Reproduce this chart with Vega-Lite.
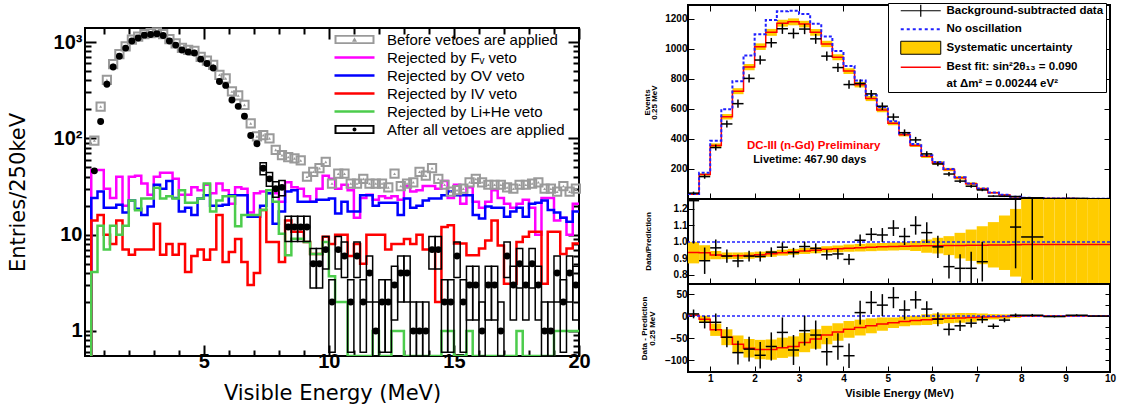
{
"$schema": "https://vega.github.io/schema/vega-lite/v6.json",
"background": "white",
"padding": {"left": 6, "top": 1, "right": 0, "bottom": 0},
"spacing": 46,
"config": {"view": {"stroke": "black", "strokeWidth": 2}, "font": "Liberation Sans", "axis": {"grid": false, "domain": false, "tickColor": "black", "labelColor": "black", "titleColor": "black", "labelFlush": false, "labelOverlap": false}},
"resolve": {"scale": {"x": "independent", "y": "independent", "shape": "independent", "color": "independent", "fill": "independent", "stroke": "independent"}, "legend": {"shape": "independent", "color": "independent", "fill": "independent", "stroke": "independent"}},
"datasets": {
"left": [
{"lo":0.5,"fv":0.3,"ov":0.3,"iv":0.3,"lihe":0.3},
{"lo":0.5,"hi":0.75,"c":0.625,"fv":47,"ov":24,"iv":14,"lihe":4.1,"before":95,"after":46},
{"lo":0.75,"hi":1,"c":0.875,"fv":47,"ov":28,"iv":16,"lihe":12.4,"before":214,"after":150},
{"lo":1,"hi":1.25,"c":1.125,"fv":30,"ov":19,"iv":10,"lihe":7,"before":405,"after":365},
{"lo":1.25,"hi":1.5,"c":1.375,"fv":24,"ov":19,"iv":8,"lihe":12.4,"before":590,"after":550},
{"lo":1.5,"hi":1.75,"c":1.625,"fv":40,"ov":20.5,"iv":14,"lihe":10,"before":750,"after":714},
{"lo":1.75,"hi":2,"c":1.875,"fv":20,"ov":17,"iv":7,"lihe":12.4,"before":900,"after":866},
{"lo":2,"hi":2.25,"c":2.125,"fv":40,"ov":22.6,"iv":6.2,"lihe":22.7,"before":1060,"after":1025},
{"lo":2.25,"hi":2.5,"c":2.375,"fv":41,"ov":18.6,"iv":7,"lihe":17.9,"before":1140,"after":1100},
{"lo":2.5,"hi":2.75,"c":2.625,"fv":34,"ov":16,"iv":7,"lihe":23.7,"before":1210,"after":1180},
{"lo":2.75,"hi":3,"c":2.875,"fv":26,"ov":19.6,"iv":7,"lihe":23.7,"before":1240,"after":1200},
{"lo":3,"hi":3.25,"c":3.125,"fv":40,"ov":33,"iv":13,"lihe":30.8,"before":1260,"after":1220},
{"lo":3.25,"hi":3.5,"c":3.375,"fv":44,"ov":30,"iv":6.2,"lihe":23.7,"before":1210,"after":1170},
{"lo":3.5,"hi":3.75,"c":3.625,"fv":44,"ov":36,"iv":8,"lihe":25,"before":1070,"after":1025},
{"lo":3.75,"hi":4,"c":3.875,"fv":38,"ov":24,"iv":6.2,"lihe":23.7,"before":970,"after":930},
{"lo":4,"hi":4.25,"c":4.125,"fv":26,"ov":17.4,"iv":8,"lihe":29,"before":870,"after":826},
{"lo":4.25,"hi":4.5,"c":4.375,"fv":26,"ov":19,"iv":4.1,"lihe":21.5,"before":830,"after":790},
{"lo":4.5,"hi":4.75,"c":4.625,"fv":31,"ov":16,"iv":6,"lihe":21.5,"before":810,"after":770},
{"lo":4.75,"hi":5,"c":4.875,"fv":29,"ov":23.7,"iv":7,"lihe":23.7,"before":700,"after":665},
{"lo":5,"hi":5.25,"c":5.125,"fv":33,"ov":25.6,"iv":5.5,"lihe":34,"before":640,"after":600},
{"lo":5.25,"hi":5.5,"c":5.375,"fv":27,"ov":20,"iv":7,"lihe":17.4,"before":580,"after":537},
{"lo":5.5,"hi":5.75,"c":5.625,"fv":34,"ov":20,"iv":16,"lihe":22.7,"before":457,"after":390},
{"lo":5.75,"hi":6,"c":5.875,"fv":29,"ov":20.5,"iv":5.2,"lihe":25,"before":420,"after":355},
{"lo":6,"hi":6.25,"c":6.125,"fv":21,"ov":25.6,"iv":6.6,"lihe":25,"before":307,"after":250},
{"lo":6.25,"hi":6.5,"c":6.375,"fv":31,"ov":25.6,"iv":9,"lihe":12.2,"before":279,"after":215},
{"lo":6.5,"hi":6.75,"c":6.625,"fv":30,"ov":25.6,"iv":5.2,"lihe":16,"before":223,"after":170},
{"lo":6.75,"hi":7,"c":6.875,"fv":17,"ov":15.4,"iv":3,"lihe":16,"before":143,"after":107},
{"lo":7,"hi":7.25,"c":7.125,"fv":27,"ov":15.4,"iv":4,"lihe":16,"before":105,"after":88},
{"lo":7.25,"hi":7.5,"c":7.375,"fv":28,"ov":20,"iv":18,"lihe":18,"before":108,"after":49,"alo":42,"ahi":56},
{"lo":7.5,"hi":7.75,"c":7.625,"fv":27,"ov":27,"iv":8.4,"lihe":29,"before":100,"after":38,"alo":31.8,"ahi":44.2},
{"lo":7.75,"hi":8,"c":7.875,"fv":27,"ov":13,"iv":8.4,"lihe":22,"before":76,"after":30,"alo":24.5,"ahi":35.5},
{"lo":8,"hi":8.25,"c":8.125,"fv":22,"ov":17.4,"iv":5.2,"lihe":10.2,"before":67,"after":31,"alo":25.4,"ahi":36.6},
{"lo":8.25,"hi":8.5,"c":8.375,"fv":35,"ov":28,"iv":14,"lihe":6.1,"before":64,"after":12,"alo":8.5,"ahi":15.5},
{"lo":8.5,"hi":8.75,"c":8.625,"fv":31,"ov":29,"iv":10.7,"lihe":9.1,"before":62,"after":12,"alo":8.5,"ahi":15.5},
{"lo":8.75,"hi":9,"c":8.875,"fv":30,"ov":22,"iv":10.7,"lihe":9.1,"before":59,"after":12,"alo":8.5,"ahi":15.5},
{"lo":9,"hi":9.25,"c":9.125,"fv":25,"ov":22,"iv":8.4,"lihe":8.4,"before":40,"after":12,"alo":8.5,"ahi":15.5},
{"lo":9.25,"hi":9.5,"c":9.375,"fv":22,"ov":22,"iv":6.3,"lihe":6.3,"before":45,"after":5,"alo":2.8,"ahi":7.2},
{"lo":9.5,"hi":9.75,"c":9.625,"fv":30,"ov":23,"iv":6.3,"lihe":6.3,"before":49,"after":5,"alo":2.8,"ahi":7.2},
{"lo":9.75,"hi":10,"c":9.875,"fv":41,"ov":23,"iv":9.5,"lihe":8.4,"before":57,"after":7,"alo":4.4,"ahi":9.6},
{"lo":10,"hi":10.25,"c":10.125,"fv":38,"ov":23.7,"iv":8,"lihe":3.7,"before":34,"after":2,"alo":0.6,"ahi":3.4},
{"lo":10.25,"hi":10.5,"c":10.375,"fv":30,"ov":16.6,"iv":10,"lihe":2,"before":43,"after":7,"alo":4.4,"ahi":9.6},
{"lo":10.5,"hi":10.75,"c":10.625,"fv":33,"ov":22,"iv":10,"lihe":2,"before":43,"after":6,"alo":3.6,"ahi":8.4},
{"lo":10.75,"hi":11,"c":10.875,"fv":29,"ov":17.4,"iv":6,"lihe":0.3,"before":34,"after":2,"alo":0.6,"ahi":3.4},
{"lo":11,"hi":11.25,"c":11.125,"fv":15,"ov":17.4,"iv":8,"lihe":0.3,"before":34,"after":6,"alo":3.6,"ahi":8.4},
{"lo":11.25,"hi":11.5,"c":11.375,"fv":24,"ov":25.6,"iv":5,"lihe":0.3,"before":38,"after":2,"alo":0.6,"ahi":3.4},
{"lo":11.5,"hi":11.75,"c":11.625,"fv":26,"ov":25.6,"iv":10,"lihe":0.3,"before":34,"after":4,"alo":2,"ahi":6},
{"lo":11.75,"hi":12,"c":11.875,"fv":23,"ov":20,"iv":10,"lihe":1,"before":34,"after":1,"alo":0.3,"ahi":2},
{"lo":12,"hi":12.25,"c":12.125,"fv":25,"ov":21.5,"iv":10,"lihe":0.3,"before":34,"after":2,"alo":0.6,"ahi":3.4},
{"lo":12.25,"hi":12.5,"c":12.375,"fv":24,"ov":21.5,"iv":7,"lihe":0.3,"before":31,"after":2,"alo":0.6,"ahi":3.4},
{"lo":12.5,"hi":12.75,"c":12.625,"fv":25,"ov":21.5,"iv":8,"lihe":1,"before":43,"after":3,"alo":1.3,"ahi":4.7},
{"lo":12.75,"hi":13,"c":12.875,"fv":23,"ov":16,"iv":8,"lihe":1,"before":32,"after":4,"alo":2,"ahi":6},
{"lo":13,"hi":13.25,"c":13.125,"fv":32,"ov":23.7,"iv":9,"lihe":0.3,"before":34,"after":4,"alo":2,"ahi":6},
{"lo":13.25,"hi":13.5,"c":13.375,"fv":28,"ov":19,"iv":8,"lihe":0.3,"before":35,"after":1,"alo":0.3,"ahi":2},
{"lo":13.5,"hi":13.75,"c":13.625,"fv":29,"ov":20,"iv":10,"lihe":0.3,"before":45,"after":1,"alo":0.3,"ahi":2},
{"lo":13.75,"hi":14,"c":13.875,"fv":32,"ov":22.7,"iv":7,"lihe":0.3,"before":41,"after":1,"alo":0.3,"ahi":2},
{"lo":14,"hi":14.25,"c":14.125,"fv":32,"ov":23.7,"iv":7,"lihe":0.3,"before":49,"after":7,"alo":4.4,"ahi":9.6},
{"lo":14.25,"hi":14.5,"c":14.375,"fv":30,"ov":23.7,"iv":2,"lihe":0.3,"before":38,"after":7,"alo":4.4,"ahi":9.6},
{"lo":14.5,"hi":14.75,"c":14.625,"fv":36,"ov":25.6,"iv":12,"lihe":1,"before":33,"after":2,"alo":0.6,"ahi":3.4},
{"lo":14.75,"hi":15,"c":14.875,"fv":24,"ov":28,"iv":12.5,"lihe":1,"before":28,"after":2,"alo":0.6,"ahi":3.4},
{"lo":15,"hi":15.25,"c":15.125,"fv":33,"ov":25.6,"iv":8.1,"lihe":0.3,"before":29,"after":6,"alo":3.6,"ahi":8.4},
{"lo":15.25,"hi":15.5,"c":15.375,"fv":21,"ov":25.6,"iv":8.1,"lihe":0.3,"before":30,"after":2,"alo":0.6,"ahi":3.4},
{"lo":15.5,"hi":15.75,"c":15.625,"fv":31,"ov":25.6,"iv":6.1,"lihe":1,"before":35,"after":3,"alo":1.3,"ahi":4.7},
{"lo":15.75,"hi":16,"c":15.875,"fv":22,"ov":16,"iv":6.1,"lihe":0.3,"before":38,"after":3,"alo":1.3,"ahi":4.7},
{"lo":16,"hi":16.25,"c":16.125,"fv":19,"ov":14.7,"iv":7.2,"lihe":0.3,"before":35,"after":1,"alo":0.3,"ahi":2},
{"lo":16.25,"hi":16.5,"c":16.375,"fv":22,"ov":19.6,"iv":8.7,"lihe":0.3,"before":33,"after":3,"alo":1.3,"ahi":4.7},
{"lo":16.5,"hi":16.75,"c":16.625,"fv":29,"ov":19,"iv":14,"lihe":0.3,"before":33,"after":3,"alo":1.3,"ahi":4.7},
{"lo":16.75,"hi":17,"c":16.875,"fv":24,"ov":19,"iv":7.7,"lihe":0.3,"before":33,"after":1,"alo":0.3,"ahi":2},
{"lo":17,"hi":17.25,"c":17.125,"fv":21,"ov":15.4,"iv":3.1,"lihe":0.3,"before":31,"after":6,"alo":3.6,"ahi":8.4},
{"lo":17.25,"hi":17.5,"c":17.375,"fv":19,"ov":17.4,"iv":3.1,"lihe":0.3,"before":30,"after":3,"alo":1.3,"ahi":4.7},
{"lo":17.5,"hi":17.75,"c":17.625,"fv":21,"ov":19,"iv":8.4,"lihe":1,"before":33,"after":5,"alo":2.8,"ahi":7.2},
{"lo":17.75,"hi":18,"c":17.875,"fv":23,"ov":15.4,"iv":9.5,"lihe":0.3,"before":33,"after":3,"alo":1.3,"ahi":4.7},
{"lo":18,"hi":18.25,"c":18.125,"fv":19,"ov":21,"iv":10.7,"lihe":0.3,"before":34,"after":5,"alo":2.8,"ahi":7.2},
{"lo":18.25,"hi":18.5,"c":18.375,"fv":10,"ov":21.5,"iv":10.7,"lihe":0.3,"before":35,"after":3,"alo":1.3,"ahi":4.7},
{"lo":18.5,"hi":18.75,"c":18.625,"fv":24,"ov":22.7,"iv":3.1,"lihe":0.3,"before":30,"after":1,"alo":0.3,"ahi":2},
{"lo":18.75,"hi":19,"c":18.875,"fv":24,"ov":18,"iv":10.7,"lihe":0.3,"before":30,"after":1,"alo":0.3,"ahi":2},
{"lo":19,"hi":19.25,"c":19.125,"fv":14,"ov":17,"iv":10.7,"lihe":1,"before":28,"after":4,"alo":2,"ahi":6},
{"lo":19.25,"hi":19.5,"c":19.375,"fv":15,"ov":15,"iv":6.3,"lihe":1,"before":32,"after":2,"alo":0.6,"ahi":3.4},
{"lo":19.5,"hi":19.75,"c":19.625,"fv":10,"ov":13.6,"iv":7.2,"lihe":1,"before":28,"after":4,"alo":2,"ahi":6},
{"lo":19.75,"hi":20,"c":19.875,"fv":21,"ov":17.4,"iv":8.1,"lihe":1,"before":30,"after":3,"alo":1.3,"ahi":4.7},
{"lo":20,"fv":21,"ov":17.4,"iv":8.1,"lihe":1}
],
"leftleg": [{"series":"before"},{"series":"fv"},{"series":"ov"},{"series":"iv"},{"series":"lihe"},{"series":"after"}],
"rightleg": [{"item":"data"},{"item":"noosc"},{"item":"sys"},{"item":"fit"},{"item":"fit2"}],
"bins": [
{"lo":0.5,"hi":0.75,"pred":31,"noosc":33,"blo":29,"bhi":33,"r":0.936,"rlo":0.87,"rhi":1.0,"d":2,"dlo":0,"dhi":4},
{"lo":0.75,"hi":1,"pred":163,"noosc":175,"blo":155,"bhi":171,"r":0.934,"rlo":0.89,"rhi":0.98,"d":-7,"dlo":-15,"dhi":1},
{"lo":1,"hi":1.25,"pred":356,"noosc":387,"blo":342,"bhi":370,"r":0.92,"rlo":0.895,"rhi":0.945,"d":-31,"dlo":-45,"dhi":-17},
{"lo":1.25,"hi":1.5,"pred":547,"noosc":597,"blo":529,"bhi":565,"r":0.916,"rlo":0.896,"rhi":0.936,"d":-48,"dlo":-66,"dhi":-30},
{"lo":1.5,"hi":1.75,"pred":717,"noosc":783,"blo":697,"bhi":737,"r":0.916,"rlo":0.896,"rhi":0.936,"d":-64,"dlo":-84,"dhi":-44},
{"lo":1.75,"hi":2,"pred":877,"noosc":955,"blo":856,"bhi":898,"r":0.918,"rlo":0.898,"rhi":0.938,"d":-73,"dlo":-94,"dhi":-52},
{"lo":2,"hi":2.25,"pred":1013,"noosc":1095,"blo":991,"bhi":1035,"r":0.922,"rlo":0.903,"rhi":0.941,"d":-76,"dlo":-98,"dhi":-54},
{"lo":2.25,"hi":2.5,"pred":1108,"noosc":1190,"blo":1085,"bhi":1131,"r":0.928,"rlo":0.91,"rhi":0.946,"d":-76,"dlo":-99,"dhi":-53},
{"lo":2.5,"hi":2.75,"pred":1169,"noosc":1248,"blo":1146,"bhi":1192,"r":0.935,"rlo":0.917,"rhi":0.953,"d":-72,"dlo":-95,"dhi":-49},
{"lo":2.75,"hi":3,"pred":1178,"noosc":1252,"blo":1155,"bhi":1201,"r":0.94,"rlo":0.922,"rhi":0.958,"d":-69,"dlo":-92,"dhi":-46},
{"lo":3,"hi":3.25,"pred":1163,"noosc":1230,"blo":1141,"bhi":1185,"r":0.945,"rlo":0.927,"rhi":0.963,"d":-60,"dlo":-82,"dhi":-38},
{"lo":3.25,"hi":3.5,"pred":1108,"noosc":1166,"blo":1086,"bhi":1130,"r":0.95,"rlo":0.932,"rhi":0.968,"d":-52,"dlo":-74,"dhi":-30},
{"lo":3.5,"hi":3.75,"pred":1031,"noosc":1080,"blo":1010,"bhi":1052,"r":0.955,"rlo":0.936,"rhi":0.974,"d":-43,"dlo":-64,"dhi":-22},
{"lo":3.75,"hi":4,"pred":943,"noosc":984,"blo":923,"bhi":963,"r":0.958,"rlo":0.938,"rhi":0.978,"d":-36,"dlo":-56,"dhi":-16},
{"lo":4,"hi":4.25,"pred":851,"noosc":885,"blo":832,"bhi":870,"r":0.962,"rlo":0.94,"rhi":0.984,"d":-30,"dlo":-49,"dhi":-11},
{"lo":4.25,"hi":4.5,"pred":760,"noosc":788,"blo":742,"bhi":778,"r":0.965,"rlo":0.942,"rhi":0.988,"d":-26,"dlo":-44,"dhi":-8},
{"lo":4.5,"hi":4.75,"pred":668,"noosc":690,"blo":651,"bhi":685,"r":0.968,"rlo":0.944,"rhi":0.992,"d":-22,"dlo":-39,"dhi":-5},
{"lo":4.75,"hi":5,"pred":592,"noosc":610,"blo":577,"bhi":607,"r":0.97,"rlo":0.946,"rhi":0.994,"d":-18,"dlo":-33,"dhi":-3},
{"lo":5,"hi":5.25,"pred":503,"noosc":517,"blo":491,"bhi":515,"r":0.972,"rlo":0.948,"rhi":0.996,"d":-15,"dlo":-27,"dhi":-3},
{"lo":5.25,"hi":5.5,"pred":427,"noosc":438,"blo":416,"bhi":438,"r":0.974,"rlo":0.95,"rhi":0.998,"d":-12,"dlo":-23,"dhi":-1},
{"lo":5.5,"hi":5.75,"pred":356,"noosc":365,"blo":345,"bhi":367,"r":0.975,"rlo":0.945,"rhi":1.005,"d":-10,"dlo":-21,"dhi":1},
{"lo":5.75,"hi":6,"pred":284,"noosc":291,"blo":272,"bhi":296,"r":0.976,"rlo":0.935,"rhi":1.015,"d":-8,"dlo":-20,"dhi":4},
{"lo":6,"hi":6.25,"pred":240,"noosc":246,"blo":228,"bhi":252,"r":0.977,"rlo":0.93,"rhi":1.025,"d":-6,"dlo":-18,"dhi":6},
{"lo":6.25,"hi":6.5,"pred":196,"noosc":200,"blo":185,"bhi":207,"r":0.978,"rlo":0.92,"rhi":1.035,"d":-5,"dlo":-16,"dhi":6},
{"lo":6.5,"hi":6.75,"pred":141,"noosc":144,"blo":130,"bhi":152,"r":0.979,"rlo":0.9,"rhi":1.055,"d":-4,"dlo":-15,"dhi":7},
{"lo":6.75,"hi":7,"pred":101,"noosc":103,"blo":91,"bhi":111,"r":0.98,"rlo":0.885,"rhi":1.075,"d":-3,"dlo":-13,"dhi":7},
{"lo":7,"hi":7.25,"pred":68,"noosc":69,"blo":60,"bhi":76,"r":0.98,"rlo":0.865,"rhi":1.095,"d":-2,"dlo":-10,"dhi":6},
{"lo":7.25,"hi":7.5,"pred":42,"noosc":43,"blo":36,"bhi":48,"r":0.981,"rlo":0.845,"rhi":1.12,"d":-1.5,"dlo":-7.5,"dhi":4.5},
{"lo":7.5,"hi":7.75,"pred":27,"noosc":27.5,"blo":22,"bhi":32,"r":0.982,"rlo":0.83,"rhi":1.16,"d":-1,"dlo":-6,"dhi":4},
{"lo":7.75,"hi":8,"pred":15,"noosc":15.3,"blo":11.6,"bhi":18.4,"r":0.983,"rlo":0.79,"rhi":1.2,"d":-0.5,"dlo":-3.9,"dhi":2.9},
{"lo":8,"hi":8.25,"pred":8,"noosc":8.2,"blo":6,"bhi":10,"r":0.985,"rlo":0.7,"rhi":1.3,"d":0,"dlo":-2,"dhi":2},
{"lo":8.25,"hi":8.5,"pred":6,"noosc":6.1,"blo":4,"bhi":8,"r":0.985,"rlo":0.7,"rhi":1.3,"d":0,"dlo":-2,"dhi":2},
{"lo":8.5,"hi":8.75,"pred":4,"noosc":4,"blo":2,"bhi":6,"r":0.985,"rlo":0.7,"rhi":1.3,"d":0,"dlo":-2,"dhi":2},
{"lo":8.75,"hi":9,"pred":3,"noosc":3,"blo":1,"bhi":5,"r":0.985,"rlo":0.7,"rhi":1.3,"d":0,"dlo":-1.5,"dhi":1.5},
{"lo":9,"hi":9.25,"pred":3,"noosc":3,"blo":1,"bhi":5,"r":0.985,"rlo":0.7,"rhi":1.3,"d":0,"dlo":-1.5,"dhi":1.5},
{"lo":9.25,"hi":9.5,"pred":2,"noosc":2,"blo":0,"bhi":4,"r":0.985,"rlo":0.7,"rhi":1.3,"d":0,"dlo":-1,"dhi":1},
{"lo":9.5,"hi":9.75,"pred":2,"noosc":2,"blo":0,"bhi":4,"r":0.985,"rlo":0.7,"rhi":1.3,"d":0,"dlo":-1,"dhi":1},
{"lo":9.75,"hi":10,"pred":2,"noosc":2,"blo":0,"bhi":4,"r":0.985,"rlo":0.7,"rhi":1.3,"d":0,"dlo":-1,"dhi":1},
{"lo":10,"pred":2,"noosc":2,"r":0.985,"d":0}
],
"pts": [
{"xc":0.625,"xl":0.5,"xh":0.75,"data":39,"derr":10,"ratio":1.25,"rerr":0.26,"diff":5},
{"xc":0.875,"xl":0.75,"xh":1,"data":149,"derr":14,"ratio":0.886,"rerr":0.08,"diff":-14},
{"xc":1.125,"xl":1,"xh":1.25,"data":342,"derr":20,"ratio":0.964,"rerr":0.05,"diff":-14},
{"xc":1.375,"xl":1.25,"xh":1.5,"data":499,"derr":23,"ratio":0.914,"rerr":0.04,"diff":-48},
{"xc":1.625,"xl":1.5,"xh":1.75,"data":634,"derr":27,"ratio":0.885,"rerr":0.038,"diff":-83},
{"xc":1.875,"xl":1.75,"xh":2,"data":802,"derr":28,"ratio":0.914,"rerr":0.032,"diff":-75},
{"xc":2.125,"xl":2,"xh":2.25,"data":924,"derr":30,"ratio":0.912,"rerr":0.03,"diff":-89},
{"xc":2.375,"xl":2.25,"xh":2.5,"data":1039,"derr":32,"ratio":0.938,"rerr":0.029,"diff":-69},
{"xc":2.625,"xl":2.5,"xh":2.75,"data":1132,"derr":34,"ratio":0.968,"rerr":0.029,"diff":-37},
{"xc":2.875,"xl":2.75,"xh":3,"data":1101,"derr":34,"ratio":0.935,"rerr":0.029,"diff":-77},
{"xc":3.125,"xl":3,"xh":3.25,"data":1130,"derr":34,"ratio":0.972,"rerr":0.029,"diff":-33},
{"xc":3.375,"xl":3.25,"xh":3.5,"data":1065,"derr":33,"ratio":0.961,"rerr":0.03,"diff":-43},
{"xc":3.625,"xl":3.5,"xh":3.75,"data":950,"derr":31,"ratio":0.922,"rerr":0.03,"diff":-81},
{"xc":3.875,"xl":3.75,"xh":4,"data":874,"derr":30,"ratio":0.927,"rerr":0.032,"diff":-69},
{"xc":4.125,"xl":4,"xh":4.25,"data":761,"derr":28,"ratio":0.894,"rerr":0.033,"diff":-90},
{"xc":4.375,"xl":4.25,"xh":4.5,"data":768,"derr":27,"ratio":1.01,"rerr":0.035,"diff":8},
{"xc":4.625,"xl":4.5,"xh":4.75,"data":699,"derr":26,"ratio":1.046,"rerr":0.039,"diff":31},
{"xc":4.875,"xl":4.75,"xh":5,"data":617,"derr":25,"ratio":1.042,"rerr":0.042,"diff":25},
{"xc":5.125,"xl":5,"xh":5.25,"data":545,"derr":24,"ratio":1.084,"rerr":0.048,"diff":42},
{"xc":5.375,"xl":5.25,"xh":5.5,"data":441,"derr":22,"ratio":1.033,"rerr":0.052,"diff":14},
{"xc":5.625,"xl":5.5,"xh":5.75,"data":393,"derr":20,"ratio":1.1,"rerr":0.056,"diff":37},
{"xc":5.875,"xl":5.75,"xh":6,"data":300,"derr":18,"ratio":1.056,"rerr":0.063,"diff":16},
{"xc":6.125,"xl":6,"xh":6.25,"data":233,"derr":16,"ratio":0.97,"rerr":0.067,"diff":-7},
{"xc":6.375,"xl":6.25,"xh":6.5,"data":166,"derr":14,"ratio":0.85,"rerr":0.072,"diff":-30},
{"xc":6.625,"xl":6.5,"xh":6.75,"data":119,"derr":12,"ratio":0.84,"rerr":0.085,"diff":-22},
{"xc":6.875,"xl":6.75,"xh":7,"data":85,"derr":10,"ratio":0.84,"rerr":0.1,"diff":-16},
{"xc":7.125,"xl":7,"xh":7.25,"data":60,"derr":8,"ratio":0.88,"rerr":0.12,"diff":-8},
{"xc":7.375,"xl":7.25,"xh":7.5,"data":19,"derr":6,"diff":-23},
{"xc":7.625,"xl":7.5,"xh":7.75,"data":18,"derr":5,"diff":-9},
{"xc":7.875,"xl":7.75,"xh":8,"data":16.5,"derr":4,"ratio":1.09,"rerr":0.25,"diff":2},
{"xc":8.25,"xl":8,"xh":8.5,"data":8,"derr":3,"ratio":1.03,"rerr":0.26,"diff":2},
{"xc":8.75,"xl":8.5,"xh":9,"data":3,"derr":2,"diff":-1},
{"xc":9.25,"xl":9,"xh":9.5,"data":4,"derr":2,"diff":2},
{"xc":9.75,"xl":9.5,"xh":10,"data":2,"derr":1.5,"diff":0}
]
},
"hconcat": [
{
"vconcat": [
{"width": 494, "height": 18, "view": {"stroke": null}, "data": {"values": [{}]}, "mark": {"type": "point", "opacity": 0}},
{
"width": 494, "height": 328,
"data": {"name": "left"},
"resolve": {"axis": {"x": "independent", "y": "independent"}},
"layer": [
{"transform": [{"fold": ["fv","ov","iv","lihe"], "as": ["series","v"]}],
 "mark": {"type": "line", "interpolate": "step-after", "strokeWidth": 2.5, "clip": true},
 "encoding": {
  "x": {"field": "lo", "type": "quantitative", "scale": {"domain": [0.25, 20], "nice": false, "zero": false},
        "axis": {"values": [1,2,3,4,5,6,7,8,9,10,11,12,13,14,15,16,17,18,19,20], "labelOverlap": false,
                 "labelOpacity": {"condition": {"test": "datum.value % 5 == 0", "value": 1}, "value": 0},
                 "tickSize": {"condition": {"test": "datum.value % 5 == 0", "value": -11}, "value": -6}, "tickWidth": 2,
                 "labelFont": "Liberation Sans", "labelFontWeight": "bold", "labelFontSize": 20, "labelPadding": 6,
                 "title": "Visible Energy (MeV)", "titleFont": "DejaVu Sans", "titleFontWeight": "normal", "titleFontSize": 21, "titlePadding": 6}},
  "y": {"field": "v", "type": "quantitative", "scale": {"type": "log", "domain": [0.55, 1400], "nice": false, "clamp": true},
        "axis": {"values": [0.6,0.7,0.8,0.9,1,2,3,4,5,6,7,8,9,10,20,30,40,50,60,70,80,90,100,200,300,400,500,600,700,800,900,1000], "labelOverlap": false,
                 "labelExpr": "datum.value == 1 ? '1' : datum.value == 10 ? '10' : datum.value == 100 ? '10²' : datum.value == 1000 ? '10³' : ''",
                 "tickSize": {"condition": {"test": "datum.value == 1 || datum.value == 10 || datum.value == 100 || datum.value == 1000", "value": -11}, "value": -6}, "tickWidth": 2,
                 "labelFont": "Liberation Sans", "labelFontWeight": "bold", "labelFontSize": 20, "labelPadding": 14,
                 "title": "Entries/250keV", "titleFont": "DejaVu Sans", "titleFontWeight": "normal", "titleFontSize": 21, "titleX": -57, "titleY": 164}},
  "color": {"field": "series", "type": "nominal", "scale": {"domain": ["fv","ov","iv","lihe"], "range": ["#ff00ff","#0000ff","#ff0000","#4ccc4c"]}, "legend": null}
 }},
{"mark": {"type": "point", "shape": "square", "size": 68, "filled": false, "strokeWidth": 2, "color": "#9a9a9a", "opacity": 1},
 "encoding": {
  "x": {"field": "c", "type": "quantitative", "axis": {"orient": "top", "values": [1,2,3,4,5,6,7,8,9,10,11,12,13,14,15,16,17,18,19,20], "labels": false, "title": null,
        "tickSize": {"condition": {"test": "datum.value % 5 == 0", "value": -11}, "value": -6}, "tickWidth": 2}},
  "y": {"field": "before", "type": "quantitative", "axis": {"orient": "right", "values": [0.6,0.7,0.8,0.9,1,2,3,4,5,6,7,8,9,10,20,30,40,50,60,70,80,90,100,200,300,400,500,600,700,800,900,1000], "labels": false, "title": null,
        "tickSize": {"condition": {"test": "datum.value == 1 || datum.value == 10 || datum.value == 100 || datum.value == 1000", "value": -11}, "value": -6}, "tickWidth": 2}}}},
{"mark": {"type": "point", "shape": "triangle-up", "size": 9, "filled": true, "color": "#9a9a9a", "opacity": 1},
 "encoding": {"x": {"field": "c", "type": "quantitative", "axis": null}, "y": {"field": "before", "type": "quantitative", "axis": null}}},
{"mark": {"type": "rect", "filled": false, "color": "black", "strokeWidth": 1.5, "clip": true},
 "encoding": {"x": {"field": "lo", "type": "quantitative", "axis": null}, "x2": {"field": "hi"}, "y": {"field": "alo", "type": "quantitative", "axis": null}, "y2": {"field": "ahi"}}},
{"mark": {"type": "point", "shape": "circle", "size": 48, "filled": true, "color": "black", "opacity": 1},
 "encoding": {"x": {"field": "c", "type": "quantitative", "axis": null}, "y": {"field": "after", "type": "quantitative", "axis": null}}},
{"data": {"name": "leftleg"},
 "mark": {"type": "point", "filled": true, "opacity": 0},
 "encoding": {
  "fill": {"field": "series", "type": "nominal",
   "scale": {"domain": ["before","fv","ov","iv","lihe","after"], "range": ["#9a9a9a","#ff00ff","#0000ff","#ff0000","#4ccc4c","#000000"]},
   "legend": {"orient": "none", "legendX": 247, "legendY": 4, "title": null, "padding": 0,
              "symbolSize": 100, "symbolOffset": 15, "labelOffset": 25, "rowPadding": 2, "symbolOpacity": 1, "symbolStrokeWidth": 0,
              "labelFont": "Liberation Sans", "labelFontSize": 15, "labelColor": "black", "labelLimit": 400,
              "labelExpr": "datum.label == 'before' ? 'Before vetoes are applied' : datum.label == 'fv' ? 'Rejected by Fᵥ veto' : datum.label == 'ov' ? 'Rejected by OV veto' : datum.label == 'iv' ? 'Rejected by IV veto' : datum.label == 'lihe' ? 'Rejected by Li+He veto' : 'After all vetoes are applied'"}},
  "shape": {"field": "series", "type": "nominal",
   "scale": {"domain": ["before","fv","ov","iv","lihe","after"],
             "range": ["M-4,-0.9H4V0.9H-4Z M-3.6,-0.55V0.55H3.6V-0.55Z M-0.5,0.45L0,-0.45L0.5,0.45Z",
                       "M-4,-0.25H4V0.25H-4Z", "M-4,-0.25H4V0.25H-4Z", "M-4,-0.25H4V0.25H-4Z", "M-4,-0.25H4V0.25H-4Z",
                       "M-4,-0.9H4V0.9H-4Z M-3.6,-0.55V0.55H3.6V-0.55Z M0.4,0A0.4,0.4,0,1,1,-0.4,0A0.4,0.4,0,1,1,0.4,0Z"]},
   "legend": {"orient": "none", "legendX": 247, "legendY": 4, "title": null, "padding": 0,
              "symbolSize": 100, "symbolOffset": 15, "labelOffset": 25, "rowPadding": 2, "symbolOpacity": 1, "symbolStrokeWidth": 0,
              "labelFont": "Liberation Sans", "labelFontSize": 15, "labelColor": "black", "labelLimit": 400,
              "labelExpr": "datum.label == 'before' ? 'Before vetoes are applied' : datum.label == 'fv' ? 'Rejected by Fᵥ veto' : datum.label == 'ov' ? 'Rejected by OV veto' : datum.label == 'iv' ? 'Rejected by IV veto' : datum.label == 'lihe' ? 'Rejected by Li+He veto' : 'After all vetoes are applied'"}}}}
]
}
],
"spacing": 0,
"resolve": {"scale": {"x": "independent", "y": "independent", "shape": "independent", "fill": "independent"}, "legend": {"shape": "independent", "fill": "independent"}}
},
{
"vconcat": [
{
"width": 422, "height": 194,
"resolve": {"axis": {"x": "independent", "y": "independent"}},
"layer": [
{"data": {"name": "bins"}, "mark": {"type": "rect", "color": "#ffcc00", "clip": true},
 "encoding": {
  "x": {"field": "lo", "type": "quantitative", "scale": {"domain": [0.5, 10], "nice": false, "zero": false},
        "axis": {"values": [1,2,3,4,5,6,7,8,9,10], "labels": false, "title": null, "tickSize": -6, "tickWidth": 1}},
  "x2": {"field": "hi"},
  "y": {"field": "blo", "type": "quantitative", "scale": {"domain": [0, 1290], "nice": false, "clamp": true},
        "axis": {"values": [200,400,600,800,1000,1200], "format": "d", "labelOverlap": false, "tickSize": -6, "tickWidth": 1, "labelFont": "Liberation Sans", "labelFontWeight": "bold", "labelFontSize": 10, "labelPadding": 7,
                 "title": ["Events", "0.25 MeV"], "titleFont": "Liberation Sans", "titleFontWeight": "bold", "titleFontSize": 8, "titleX": -45, "titleY": 97, "titleBaseline": "top", "titleAngle": -90, "titleLineHeight": 7.5}},
  "y2": {"field": "bhi"}
 }},
{"data": {"name": "bins"}, "mark": {"type": "line", "interpolate": "step-after", "color": "#ff0000", "strokeWidth": 1.5, "clip": true},
 "encoding": {"x": {"field": "lo", "type": "quantitative", "axis": {"orient": "top", "values": [1,2,3,4,5,6,7,8,9,10], "labels": false, "title": null, "tickSize": -6, "tickWidth": 1}},
              "y": {"field": "pred", "type": "quantitative", "axis": {"orient": "right", "values": [200,400,600,800,1000,1200], "labels": false, "title": null, "tickSize": -6, "tickWidth": 1}}}},
{"data": {"name": "bins"}, "mark": {"type": "line", "interpolate": "step-after", "color": "#2020ff", "strokeWidth": 2, "strokeDash": [3, 2], "clip": true},
 "encoding": {"x": {"field": "lo", "type": "quantitative", "axis": null}, "y": {"field": "noosc", "type": "quantitative", "axis": null}}},
{"data": {"name": "pts"}, "mark": {"type": "rule", "color": "black", "strokeWidth": 1.5, "clip": true},
 "encoding": {"x": {"field": "xl", "type": "quantitative", "axis": null}, "x2": {"field": "xh"}, "y": {"field": "data", "type": "quantitative", "axis": null}}},
{"data": {"name": "pts"}, "mark": {"type": "errorbar", "ticks": false, "rule": {"color": "black", "strokeWidth": 1.5}},
 "encoding": {"x": {"field": "xc", "type": "quantitative", "axis": null}, "y": {"field": "data", "type": "quantitative", "axis": null}, "yError": {"field": "derr"}}},
{"data": {"values": [{"t": "DC-III (n-Gd) Preliminary"}]}, "mark": {"type": "text", "color": "#ff0000", "font": "Liberation Sans", "fontWeight": "bold", "fontSize": 11.5},
 "encoding": {"x": {"datum": 3.33, "type": "quantitative", "axis": null}, "y": {"datum": 352, "type": "quantitative", "axis": null}, "text": {"field": "t"}}},
{"data": {"values": [{"t": "Livetime: 467.90 days"}]}, "mark": {"type": "text", "color": "black", "font": "Liberation Sans", "fontWeight": "bold", "fontSize": 11},
 "encoding": {"x": {"datum": 3.24, "type": "quantitative", "axis": null}, "y": {"datum": 262, "type": "quantitative", "axis": null}, "text": {"field": "t"}}},
{"data": {"name": "rightleg"},
 "mark": {"type": "point", "filled": true, "opacity": 0},
 "encoding": {
  "fill": {"field": "item", "type": "nominal",
   "scale": {"domain": ["data","noosc","sys","fit","fit2"], "range": ["#000000","#2020ff","#ffcc00","#ff0000","transparent"]},
   "legend": {"orient": "none", "legendX": 200, "legendY": -2, "title": null, "padding": 2,
              "strokeColor": "black", "fillColor": "white",
              "symbolSize": 100, "symbolOffset": 25, "labelOffset": 20, "rowPadding": 3.5, "symbolOpacity": 1, "symbolStrokeWidth": 1,
              "labelFont": "Liberation Sans", "labelFontWeight": "bold", "labelFontSize": 11.5, "labelColor": "black", "labelLimit": 400,
              "labelExpr": "datum.label == 'data' ? 'Background-subtracted data' : datum.label == 'noosc' ? 'No oscillation' : datum.label == 'sys' ? 'Systematic uncertainty' : datum.label == 'fit' ? 'Best fit: sin²2θ₁₃ = 0.090' : 'at  Δm² = 0.00244 eV²'"}},
  "stroke": {"field": "item", "type": "nominal",
   "scale": {"domain": ["data","noosc","sys","fit","fit2"], "range": ["transparent","transparent","#000000","transparent","transparent"]},
   "legend": {"orient": "none", "legendX": 200, "legendY": -2, "title": null, "padding": 2,
              "strokeColor": "black", "fillColor": "white",
              "symbolSize": 100, "symbolOffset": 25, "labelOffset": 20, "rowPadding": 3.5, "symbolOpacity": 1, "symbolStrokeWidth": 1,
              "labelFont": "Liberation Sans", "labelFontWeight": "bold", "labelFontSize": 11.5, "labelColor": "black", "labelLimit": 400,
              "labelExpr": "datum.label == 'data' ? 'Background-subtracted data' : datum.label == 'noosc' ? 'No oscillation' : datum.label == 'sys' ? 'Systematic uncertainty' : datum.label == 'fit' ? 'Best fit: sin²2θ₁₃ = 0.090' : 'at  Δm² = 0.00244 eV²'"}},
  "shape": {"field": "item", "type": "nominal",
   "scale": {"domain": ["data","noosc","sys","fit","fit2"],
             "range": ["M-4,-0.12H4V0.12H-4Z M-0.12,-1.2H0.12V1.2H-0.12Z",
                       "M-4,-0.2H-3.4V0.2H-4Z M-2.8,-0.2H-2.2V0.2H-2.8Z M-1.6,-0.2H-1V0.2H-1.6Z M-0.4,-0.2H0.2V0.2H-0.4Z M0.8,-0.2H1.4V0.2H0.8Z M2,-0.2H2.6V0.2H2Z M3.2,-0.2H3.8V0.2H3.2Z",
                       "M-4,-1.3H4V1.3H-4Z",
                       "M-4,-0.15H4V0.15H-4Z",
                       "M0,0"]},
   "legend": {"orient": "none", "legendX": 200, "legendY": -2, "title": null, "padding": 2,
              "strokeColor": "black", "fillColor": "white",
              "symbolSize": 100, "symbolOffset": 25, "labelOffset": 20, "rowPadding": 3.5, "symbolOpacity": 1, "symbolStrokeWidth": 1,
              "labelFont": "Liberation Sans", "labelFontWeight": "bold", "labelFontSize": 11.5, "labelColor": "black", "labelLimit": 400,
              "labelExpr": "datum.label == 'data' ? 'Background-subtracted data' : datum.label == 'noosc' ? 'No oscillation' : datum.label == 'sys' ? 'Systematic uncertainty' : datum.label == 'fit' ? 'Best fit: sin²2θ₁₃ = 0.090' : 'at  Δm² = 0.00244 eV²'"}}}}
]
},
{
"width": 422, "height": 85,
"resolve": {"axis": {"x": "independent", "y": "independent"}},
"layer": [
{"data": {"name": "bins"}, "mark": {"type": "rect", "color": "#ffcc00", "clip": true},
 "encoding": {
  "x": {"field": "lo", "type": "quantitative", "scale": {"domain": [0.5, 10], "nice": false, "zero": false},
        "axis": {"values": [1,2,3,4,5,6,7,8,9,10], "labels": false, "title": null, "tickSize": -6, "tickWidth": 1}},
  "x2": {"field": "hi"},
  "y": {"field": "rlo", "type": "quantitative", "scale": {"domain": [0.745, 1.26], "nice": false, "zero": false, "clamp": true},
        "axis": {"values": [0.8,0.9,1.0,1.1,1.2], "format": ".1f", "labelOverlap": false, "tickSize": -6, "tickWidth": 1, "labelFont": "Liberation Sans", "labelFontWeight": "bold", "labelFontSize": 10, "labelPadding": 7,
                 "title": "Data/Prediction", "titleFont": "Liberation Sans", "titleFontWeight": "bold", "titleFontSize": 8, "titleX": -44, "titleY": 42, "titleBaseline": "top", "titleAngle": -90}},
  "y2": {"field": "rhi"}
 }},
{"data": {"name": "bins"}, "mark": {"type": "line", "interpolate": "step-after", "color": "#ff0000", "strokeWidth": 1.5, "clip": true},
 "encoding": {"x": {"field": "lo", "type": "quantitative", "axis": null},
              "y": {"field": "r", "type": "quantitative", "axis": {"orient": "right", "values": [0.8,0.85,0.9,0.95,1.0,1.05,1.1,1.15,1.2,1.25], "labels": false, "title": null, "tickSize": -5, "tickWidth": 1}}}},
{"data": {"values": [{"one": 1}]}, "mark": {"type": "rule", "color": "#2020ff", "strokeWidth": 1.5, "strokeDash": [3, 2]},
 "encoding": {"y": {"field": "one", "type": "quantitative", "axis": null}}},
{"data": {"name": "pts"}, "transform": [{"filter": "isValid(datum.ratio)"}], "mark": {"type": "rule", "color": "black", "strokeWidth": 1.5, "clip": true},
 "encoding": {"x": {"field": "xl", "type": "quantitative", "axis": null}, "x2": {"field": "xh"}, "y": {"field": "ratio", "type": "quantitative", "axis": null}}},
{"data": {"name": "pts"}, "transform": [{"filter": "isValid(datum.ratio)"}], "mark": {"type": "errorbar", "ticks": false, "rule": {"color": "black", "strokeWidth": 1.5}},
 "encoding": {"x": {"field": "xc", "type": "quantitative", "axis": null}, "y": {"field": "ratio", "type": "quantitative", "axis": null}, "yError": {"field": "rerr"}}}
]
},
{
"width": 422, "height": 88,
"resolve": {"axis": {"x": "independent", "y": "independent"}},
"layer": [
{"data": {"name": "bins"}, "mark": {"type": "rect", "color": "#ffcc00", "clip": true},
 "encoding": {
  "x": {"field": "lo", "type": "quantitative", "scale": {"domain": [0.5, 10], "nice": false, "zero": false},
        "axis": {"values": [1,2,3,4,5,6,7,8,9,10], "format": "d", "labelOverlap": false, "tickSize": -6, "tickWidth": 1, "labelFont": "Liberation Sans", "labelFontWeight": "bold", "labelFontSize": 10, "labelPadding": 7,
                 "title": "Visible Energy (MeV)", "titleFont": "Liberation Sans", "titleFontWeight": "bold", "titleFontSize": 11, "titlePadding": 4}},
  "x2": {"field": "hi"},
  "y": {"field": "dlo", "type": "quantitative", "scale": {"domain": [-127, 73], "nice": false, "zero": false, "clamp": true},
        "axis": {"values": [-100,-50,0,50], "labelOverlap": false, "tickSize": -6, "tickWidth": 1, "labelFont": "Liberation Sans", "labelFontWeight": "bold", "labelFontSize": 10, "labelPadding": 7,
                 "title": ["Data - Prediction", "0.25 MeV"], "titleFont": "Liberation Sans", "titleFontWeight": "bold", "titleFontSize": 8, "titleX": -48, "titleY": 44, "titleBaseline": "top", "titleAngle": -90, "titleLineHeight": 8}},
  "y2": {"field": "dhi"}
 }},
{"data": {"name": "bins"}, "mark": {"type": "line", "interpolate": "step-after", "color": "#ff0000", "strokeWidth": 1.5, "clip": true},
 "encoding": {"x": {"field": "lo", "type": "quantitative", "axis": null},
              "y": {"field": "d", "type": "quantitative", "axis": {"orient": "right", "values": [-100,-75,-50,-25,0,25,50], "labels": false, "title": null, "tickSize": -5, "tickWidth": 1}}}},
{"data": {"values": [{"zero": 0}]}, "mark": {"type": "rule", "color": "#2020ff", "strokeWidth": 1.5, "strokeDash": [3, 2]},
 "encoding": {"y": {"field": "zero", "type": "quantitative", "axis": null}}},
{"data": {"name": "pts"}, "mark": {"type": "rule", "color": "black", "strokeWidth": 1.5, "clip": true},
 "encoding": {"x": {"field": "xl", "type": "quantitative", "axis": null}, "x2": {"field": "xh"}, "y": {"field": "diff", "type": "quantitative", "axis": null}}},
{"data": {"name": "pts"}, "mark": {"type": "errorbar", "ticks": false, "rule": {"color": "black", "strokeWidth": 1.5}},
 "encoding": {"x": {"field": "xc", "type": "quantitative", "axis": null}, "y": {"field": "diff", "type": "quantitative", "axis": null}, "yError": {"field": "derr"}}}
]
}
],
"spacing": 0,
"bounds": "flush",
"resolve": {"scale": {"x": "independent", "y": "independent", "shape": "independent", "fill": "independent", "stroke": "independent"}, "legend": {"shape": "independent", "fill": "independent", "stroke": "independent"}}
}
]
}
